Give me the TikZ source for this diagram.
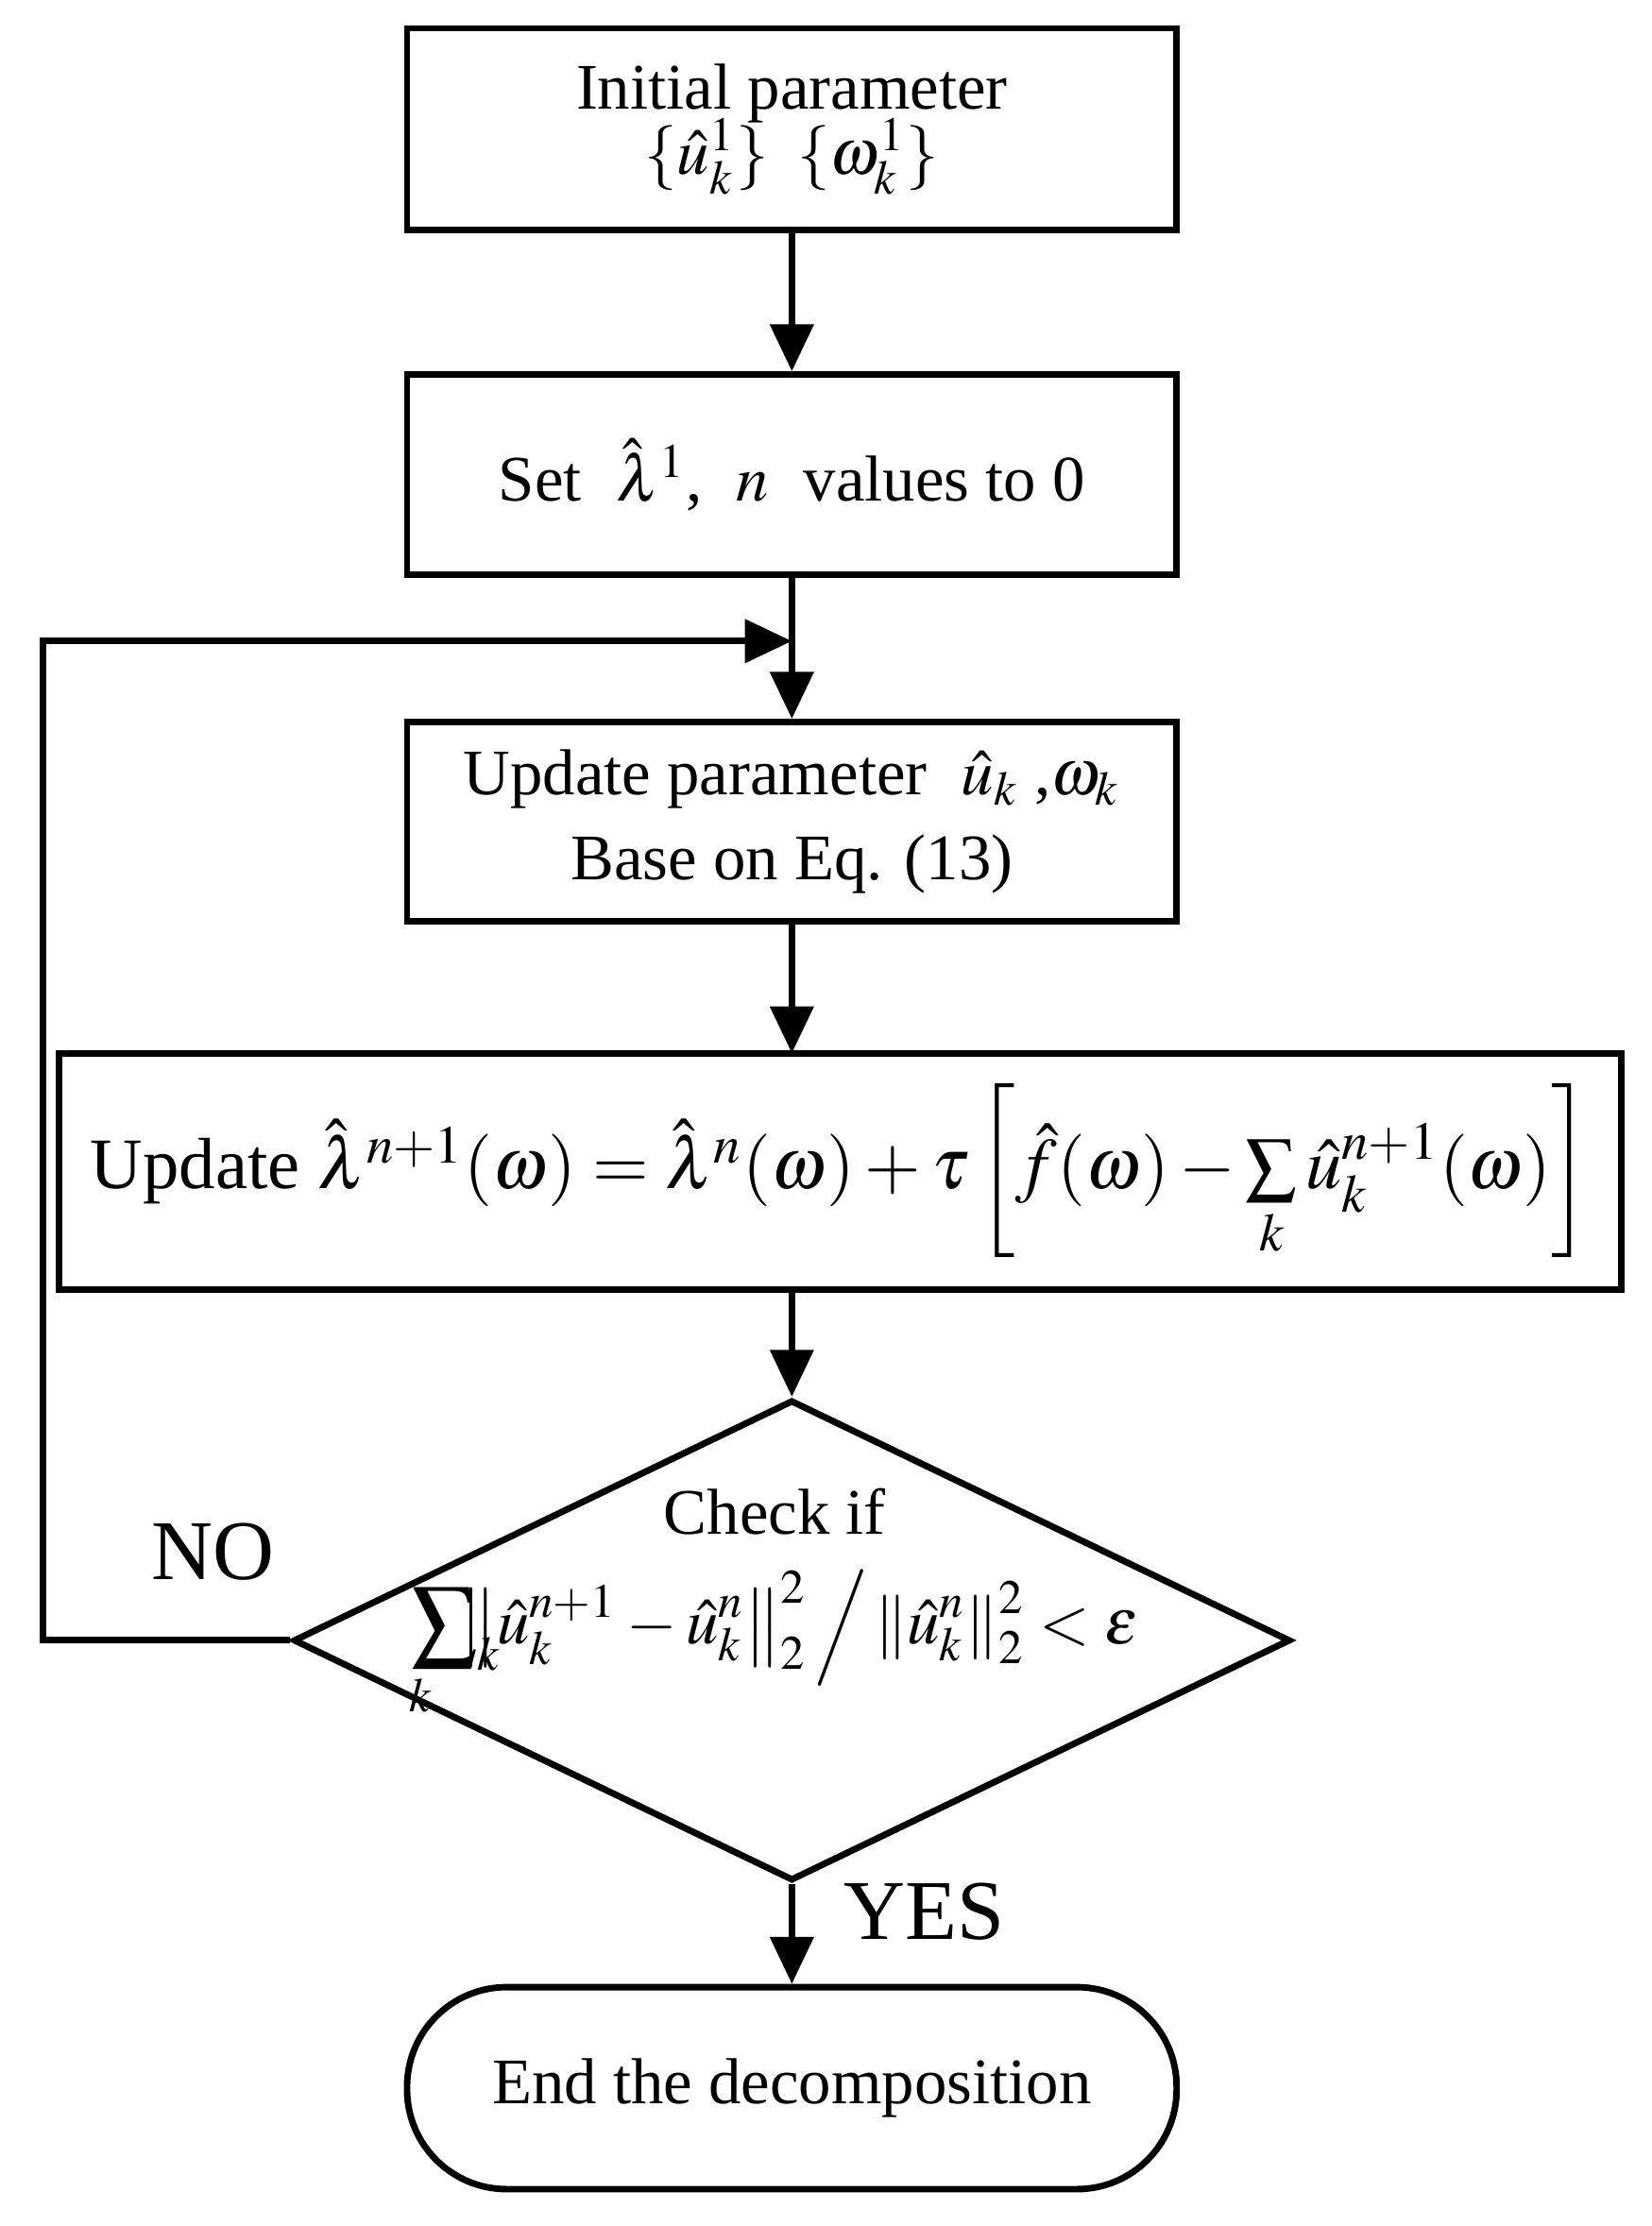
\documentclass[tikz,border=0pt]{standalone}
\usepackage{mathptmx}
\usepackage{fontspec}
\setmainfont{Liberation Serif}
\usetikzlibrary{arrows.meta,shapes.geometric}
\begin{document}
\begin{tikzpicture}[x=0.01cm,y=-0.01cm,
  font=\fontsize{13}{16}\selectfont,
  every path/.style={line width=1.3pt},
  box/.style={draw,line width=1.3pt,align=center,inner sep=0pt},
  arr/.style={-{Triangle[length=0.33cm,width=0.3cm]},line width=1.3pt}]
\useasboundingbox (0,0) rectangle (1162,1566);
\node[box,minimum width=5.41cm,minimum height=1.42cm] (b1) at (557,91)
  {Initial parameter\\[-3pt] $\{\hat u_k^1\}\;\;\{\omega_k^1\}$};
\node[box,minimum width=5.41cm,minimum height=1.41cm] (b2) at (557,334)
  {Set\; $\hat\lambda^1$,\; $n$\; values to 0};
\node[box,minimum width=5.41cm,minimum height=1.40cm] (b3) at (557,578)
  {Update parameter\; $\hat u_k$ ,$\omega_k$\\[1pt] Base on Eq. (13)};
\node[box,minimum width=10.98cm,minimum height=1.66cm,font=\fontsize{14.5}{17}\selectfont] (b4) at (591,824)
  {Update $\hat\lambda^{n+1}(\omega)=\hat\lambda^{n}(\omega)+\tau\left[\hat f(\omega)-\sum\limits_k \hat u_k^{n+1}(\omega)\right]$};
\coordinate (b4t) at (557,741);
\coordinate (b4b) at (557,907);
\node[diamond,draw,line width=1.3pt,minimum width=7.01cm,minimum height=3.38cm,inner sep=0pt] (d) at (557,1154) {};
\node[align=center] at (545,1128) {Check if\\[6pt] $\displaystyle\sum\nolimits_k\!\!\!\!\!\!\!\!\!\!\!\!\!\!\!\!\!\mathop{\phantom{\sum}}_k\left\|\hat u_k^{n+1}-\hat u_k^{n}\right\|_2^2\Big/\left\|\hat u_k^{n}\right\|_2^2<\varepsilon$};
\node[box,rounded corners=0.7cm,minimum width=5.41cm,minimum height=1.42cm] (e) at (557,1469)
  {End the decomposition};
\draw[arr] (b1) -- (b2);
\draw[arr] (b2) -- (b3);
\draw[arr] (b3) -- (b4t);
\draw[arr] (b4b) -- (d);
\draw[arr] (d) -- (e);
\coordinate (j) at (557,451);
\draw[arr] (d.west) -- (30,1154) -- (30,451) -- (j);
\node at (150,1092) {\fontsize{17}{20}\selectfont NO};
\node at (650,1345) {\fontsize{17}{20}\selectfont YES};
\end{tikzpicture}
\end{document}
